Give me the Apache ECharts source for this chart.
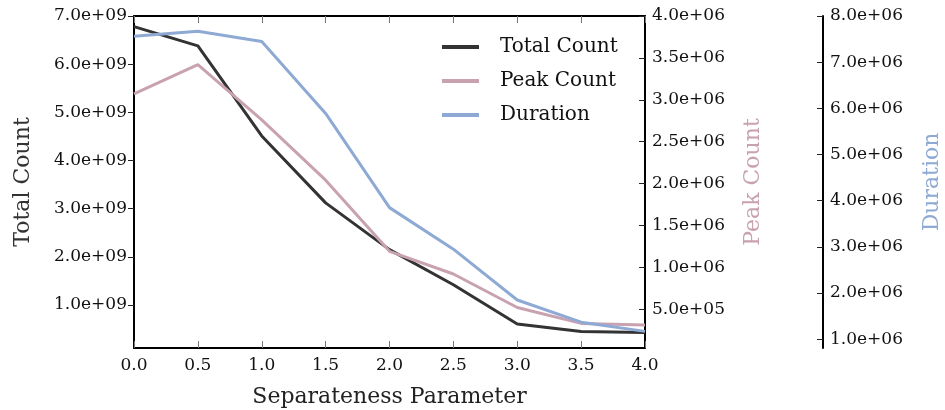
<!DOCTYPE html>
<html>
<head>
<meta charset="utf-8">
<script src="https://cdn.jsdelivr.net/npm/echarts@6/dist/echarts.min.js"></script>
<style>
html,body{margin:0;padding:0;background:#fff;}
#chart{width:945px;height:410px;}
</style>
</head>
<body>
<div id="chart"></div>
<script>
const xValues = [0.0, 0.5, 1.0, 1.5, 2.0, 2.5, 3.0, 3.5, 4.0];
const totalCount = [6.78e9, 6.38e9, 4.51e9, 3.12e9, 2.15e9, 1.42e9, 0.606e9, 0.45e9, 0.43e9];
const peakCount = [3.07e6, 3.42e6, 2.76e6, 2.04e6, 1.19e6, 0.92e6, 0.52e6, 0.33e6, 0.31e6];
const duration = [7.56e6, 7.67e6, 7.45e6, 5.89e6, 3.85e6, 2.95e6, 1.85e6, 1.37e6, 1.17e6];

const totalTicks = [1e9, 2e9, 3e9, 4e9, 5e9, 6e9, 7e9];
const peakTicks = [5e5, 1e6, 1.5e6, 2e6, 2.5e6, 3e6, 3.5e6, 4e6];
const durationTicks = [1e6, 2e6, 3e6, 4e6, 5e6, 6e6, 7e6, 8e6];

const seriesNames = ['Total Count', 'Peak Count', 'Duration'];
const colors = ['#333333', '#c9a2b1', '#8eaad4'];
const FONT = 'DejaVu Serif';

function expFmt(v) {
  let s = Number(v).toExponential(1);
  const m = s.match(/^(-?[\d.]+)e([+-])(\d+)$/);
  if (!m) return s;
  let e = m[3];
  if (e.length < 2) e = '0' + e;
  return m[1] + 'e' + m[2] + e;
}
function pairs(ys) { return xValues.map((x, i) => [x, ys[i]]); }

const tickLabel = {fontFamily: FONT, fontSize: 17, color: '#111'};

function yAxisDef(pos, offset, min, max, ticks, name, nameColor, inside, nameGap) {
  return {
    type: 'value', position: pos, offset: offset, min: min, max: max,
    name: name, nameLocation: 'middle', nameRotate: 90, nameGap: nameGap,
    nameTextStyle: {fontFamily: FONT, fontSize: 22, color: nameColor},
    axisLine: {show: true, onZero: false, lineStyle: {color: '#000', width: 2}},
    axisTick: {show: true, inside: inside, length: 6, customValues: ticks, lineStyle: {color: '#222', width: 1}},
    axisLabel: Object.assign({margin: 7, customValues: ticks, formatter: expFmt}, tickLabel),
    splitLine: {show: false}
  };
}

const chart = echarts.init(document.getElementById('chart'));
chart.setOption({
  animation: false,
  backgroundColor: '#fff',
  color: colors,
  grid: {left: 134, top: 16, width: 511, height: 332, containLabel: false, outerBoundsMode: 'none'},
  legend: {
    orient: 'vertical', left: 437, top: 32, itemWidth: 37, itemHeight: 4, itemGap: 14, icon: 'rect',
    data: seriesNames,
    textStyle: {fontFamily: FONT, fontSize: 20, color: '#111', lineHeight: 20, padding: [0, 0, 0, 16]}
  },
  xAxis: [
    {
      type: 'value', position: 'bottom', min: 0, max: 4, interval: 0.5,
      name: 'Separateness Parameter', nameLocation: 'middle', nameGap: 38,
      nameTextStyle: {fontFamily: FONT, fontSize: 22, color: '#222'},
      axisLine: {show: true, onZero: false, lineStyle: {color: '#000', width: 2}},
      axisTick: {show: true, inside: true, length: 7, lineStyle: {color: '#777', width: 1}},
      axisLabel: Object.assign({margin: 9, formatter: v => v.toFixed(1)}, tickLabel),
      splitLine: {show: false}
    },
    {
      type: 'value', position: 'top', min: 0, max: 4, interval: 0.5,
      axisLine: {show: true, onZero: false, lineStyle: {color: '#000', width: 2}},
      axisTick: {show: true, inside: true, length: 7, lineStyle: {color: '#777', width: 1}},
      axisLabel: {show: false}, splitLine: {show: false}
    }
  ],
  yAxis: [
    yAxisDef('left', 0, 0.108e9, 7e9, totalTicks, 'Total Count', '#333', false, 100),
    yAxisDef('right', 0, 0.036e6, 4e6, peakTicks, 'Peak Count', colors[1], true, 97),
    yAxisDef('right', 178, 0.81e6, 8e6, durationTicks, 'Duration', colors[2], true, 98)
  ],
  series: [
    {name: seriesNames[0], type: 'line', xAxisIndex: 0, yAxisIndex: 0, data: pairs(totalCount), symbol: 'none', lineStyle: {width: 3, color: colors[0]}},
    {name: seriesNames[1], type: 'line', xAxisIndex: 0, yAxisIndex: 1, data: pairs(peakCount), symbol: 'none', lineStyle: {width: 3, color: colors[1]}},
    {name: seriesNames[2], type: 'line', xAxisIndex: 0, yAxisIndex: 2, data: pairs(duration), symbol: 'none', lineStyle: {width: 3, color: colors[2]}}
  ]
});
</script>
</body>
</html>
